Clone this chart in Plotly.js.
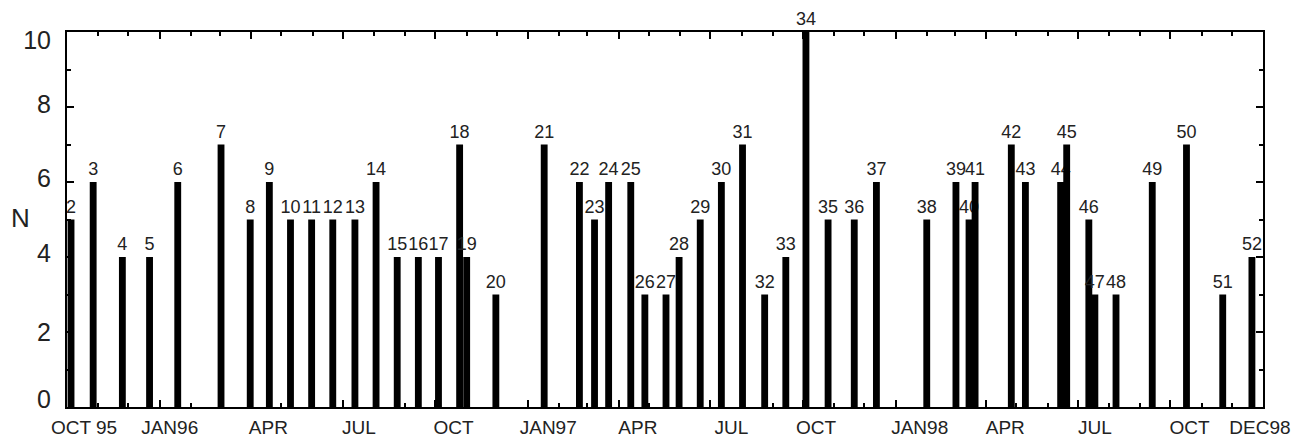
<!DOCTYPE html>
<html>
<head>
<meta charset="utf-8">
<script src="https://cdn.plot.ly/plotly-3.0.1.min.js"></script>
<style>
html,body{margin:0;padding:0;background:#fff;}
#chart{width:1305px;height:441px;}
</style>
</head>
<body>
<div id="chart"></div>
<script>
// Event dates (bar centres)
const eventDates = [
  '1995-10-05','1995-10-27','1995-11-25','1995-12-22',
  '1996-01-19','1996-03-02','1996-03-31','1996-04-19','1996-05-10','1996-05-31',
  '1996-06-21','1996-07-13','1996-08-03','1996-08-24','1996-09-14','1996-10-04',
  '1996-10-25','1996-11-01','1996-11-30',
  '1997-01-17','1997-02-21','1997-03-08','1997-03-22','1997-04-13','1997-04-27',
  '1997-05-18','1997-05-31','1997-06-21','1997-07-12','1997-08-02','1997-08-24',
  '1997-09-14','1997-10-04','1997-10-26','1997-11-21','1997-12-13',
  '1998-02-01','1998-03-02','1998-03-15','1998-03-21','1998-04-26','1998-05-10',
  '1998-06-14','1998-06-20','1998-07-12','1998-07-18','1998-08-08','1998-09-13',
  '1998-10-17','1998-11-22','1998-12-21'
];
// N values
const counts = [
  5,6,4,4,
  6,7,5,6,5,5,
  5,5,6,4,4,4,
  7,4,3,
  7,6,5,6,6,3,
  3,4,5,6,7,3,
  4,10,5,5,6,
  5,6,5,6,7,6,
  6,7,5,3,3,6,
  7,3,4
];
// Event numbers shown above the bars
const eventLabels = [];
for (let i = 2; i <= 52; i++) eventLabels.push(String(i));

// X-axis tick labels and their (centre) positions
const monthLabels = ['OCT 95','JAN96','APR','JUL','OCT','JAN97','APR','JUL','OCT','JAN98','APR','JUL','OCT','DEC98'];
const monthLabelDates = ['1995-10-18','1996-01-11','1996-04-18','1996-07-17','1996-10-19','1997-01-21',
  '1997-04-20','1997-07-22','1997-10-14','1998-01-25','1998-04-20','1998-07-18','1998-10-20','1998-12-29'];
// Y-axis tick labels and their positions
const yLabels = ['0','2','4','6','8','10'];
const yLabelPos = [0.21, 2, 4.1, 6.1, 8.08, 9.77];
const yTitle = 'N';

const DAY = 86400000;
const textColor = '#222';

const trace = {
  type: 'bar',
  x: eventDates,
  y: counts,
  text: eventLabels,
  textposition: 'outside',
  cliponaxis: false,
  constraintext: 'none',
  textfont: {family: 'Liberation Sans, Arial, sans-serif', size: 18, color: textColor},
  width: eventDates.map(() => 6.8 * DAY),
  marker: {color: '#000', line: {width: 0}},
  hoverinfo: 'x+y'
};
// empty helper trace so the label-only overlay axes are drawn
const labelAxesTrace = {
  type: 'scatter', mode: 'markers', x: [], y: [],
  xaxis: 'x2', yaxis: 'y2', showlegend: false, hoverinfo: 'skip'
};

const xRange = ['1995-10-01', '1999-01-01'];

const layout = {
  width: 1305, height: 441,
  margin: {l: 67, r: 42, t: 32, b: 34},
  paper_bgcolor: '#fff', plot_bgcolor: '#fff',
  showlegend: false,
  font: {family: 'Liberation Sans, Arial, sans-serif', color: textColor},
  xaxis: {
    type: 'date', range: xRange,
    tickmode: 'linear', tick0: '1995-10-01', dtick: 'M3',
    ticks: 'inside', ticklen: 7, tickwidth: 2, tickcolor: '#000',
    showticklabels: false,
    showline: true, linewidth: 2, linecolor: '#000', mirror: 'allticks',
    showgrid: false, zeroline: false,
    minor: {tick0: '1995-10-01', dtick: 'M1', ticks: 'inside', ticklen: 4, tickwidth: 2, tickcolor: '#000', showgrid: false}
  },
  xaxis2: {
    type: 'date', range: xRange, overlaying: 'x', side: 'bottom', anchor: 'y2',
    tickmode: 'array', tickvals: monthLabelDates, ticktext: monthLabels,
    ticks: '', showline: false, showgrid: false, zeroline: false,
    tickfont: {size: 19, color: textColor},
    ticklabelstandoff: 7
  },
  yaxis: {
    range: [0, 10],
    tickmode: 'linear', tick0: 0, dtick: 2,
    ticks: 'inside', ticklen: 7, tickwidth: 2, tickcolor: '#000',
    showticklabels: false,
    showline: true, linewidth: 2, linecolor: '#000', mirror: 'allticks',
    showgrid: false, zeroline: false,
    minor: {dtick: 1, ticks: 'inside', ticklen: 4, tickwidth: 2, tickcolor: '#000', showgrid: false}
  },
  yaxis2: {
    range: [0, 10], overlaying: 'y', side: 'left', anchor: 'x2',
    tickmode: 'array', tickvals: yLabelPos, ticktext: yLabels,
    ticks: '', showline: false, showgrid: false, zeroline: false,
    tickfont: {size: 25, color: textColor},
    ticklabelstandoff: 15
  },
  annotations: [{
    text: yTitle, xref: 'paper', yref: 'paper',
    x: -0.0385, y: 0.504, xanchor: 'center', yanchor: 'middle',
    showarrow: false, font: {size: 26, color: textColor}
  }]
};

Plotly.newPlot('chart', [trace, labelAxesTrace], layout, {staticPlot: true, displayModeBar: false});
</script>
</body>
</html>
